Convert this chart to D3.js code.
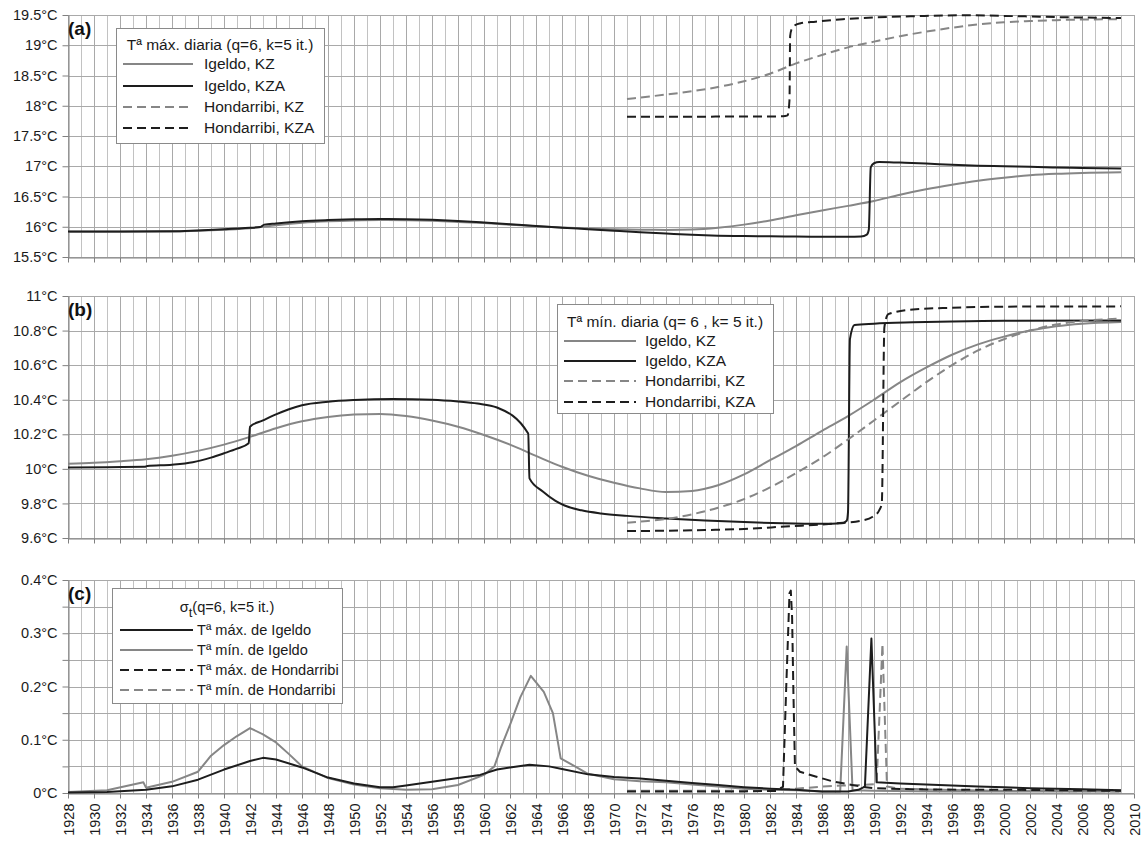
<!DOCTYPE html>
<html>
<head>
<meta charset="utf-8">
<script src="https://cdn.jsdelivr.net/npm/d3@7"></script>
<style>
  body { margin: 0; background: #fff; }
  svg { display: block; font-family: "Liberation Sans", Arial, sans-serif; }
</style>
</head>
<body>
<svg id="chart" width="1145" height="841"></svg>
<script>
// ---- (a) daily maximum temperature, smoothed series [year, °C] ----
const maxIgeldoKZ = [[1928,15.918],[1932,15.918],[1936,15.922],[1938,15.932],[1940,15.95],[1942,15.975],[1944,16.025],[1946,16.065],[1948,16.09],[1950,16.105],[1952,16.112],[1954,16.108],[1956,16.098],[1958,16.08],[1960,16.06],[1962,16.035],[1964,16.01],[1966,15.988],[1968,15.97],[1970,15.958],[1972,15.95],[1974,15.948],[1976,15.955],[1978,15.985],[1980,16.035],[1982,16.105],[1984,16.19],[1986,16.27],[1988,16.345],[1990,16.425],[1992,16.53],[1994,16.62],[1996,16.695],[1998,16.76],[2000,16.81],[2002,16.85],[2004,16.875],[2006,16.89],[2009,16.9]];
const maxIgeldoKZA = [[1928,15.92],[1932,15.92],[1936,15.925],[1938,15.94],[1940,15.958],[1942,15.982],[1942.8,15.995],[1943.1,16.035],[1944,16.055],[1946,16.09],[1948,16.11],[1950,16.124],[1952,16.13],[1954,16.126],[1956,16.115],[1958,16.096],[1960,16.07],[1962,16.042],[1964,16.012],[1966,15.985],[1968,15.96],[1970,15.935],[1972,15.91],[1974,15.888],[1976,15.866],[1978,15.852],[1980,15.846],[1982,15.842],[1984,15.838],[1986,15.836],[1988,15.836],[1989,15.84],[1989.45,15.87],[1989.6,15.95],[1989.75,16.98],[1990,17.05],[1990.4,17.07],[1992,17.06],[1994,17.045],[1996,17.025],[1998,17.01],[2000,17.0],[2002,16.99],[2004,16.98],[2006,16.972],[2009,16.962]];
const maxHondKZ = [[1971,18.11],[1972,18.135],[1974,18.185],[1976,18.24],[1978,18.31],[1980,18.405],[1982,18.53],[1984,18.7],[1986,18.84],[1988,18.965],[1990,19.06],[1992,19.15],[1994,19.225],[1996,19.29],[1998,19.345],[2000,19.38],[2002,19.4],[2004,19.415],[2006,19.425],[2009,19.43]];
const maxHondKZA = [[1971,17.82],[1976,17.82],[1981,17.822],[1983.0,17.825],[1983.35,17.84],[1983.5,18.1],[1983.55,19.15],[1983.65,19.26],[1983.85,19.32],[1984.3,19.36],[1985.5,19.39],[1987.6,19.43],[1990,19.46],[1993,19.48],[1997,19.495],[2001,19.48],[2005,19.462],[2009,19.45]];

// ---- (b) daily minimum temperature ----
const minIgeldoKZ = [[1928,10.03],[1930,10.035],[1932,10.044],[1934,10.056],[1936,10.076],[1938,10.104],[1940,10.14],[1942,10.185],[1944,10.235],[1946,10.275],[1948,10.3],[1950,10.314],[1952,10.318],[1954,10.306],[1956,10.28],[1958,10.244],[1960,10.196],[1962,10.14],[1964,10.075],[1966,10.012],[1968,9.96],[1970,9.92],[1972,9.887],[1974,9.866],[1976,9.872],[1978,9.905],[1980,9.968],[1982,10.05],[1984,10.132],[1986,10.22],[1988,10.305],[1990,10.4],[1992,10.5],[1994,10.585],[1996,10.66],[1998,10.72],[2000,10.765],[2002,10.8],[2004,10.825],[2006,10.84],[2009,10.85]];
const minIgeldoKZA = [[1928,10.008],[1931,10.01],[1933.9,10.012],[1934.1,10.017],[1936,10.024],[1937.6,10.038],[1939,10.065],[1940,10.09],[1941,10.117],[1941.9,10.148],[1942,10.244],[1943,10.28],[1944,10.315],[1945,10.345],[1946,10.368],[1948,10.388],[1950,10.398],[1953,10.404],[1956,10.4],[1958,10.39],[1959.5,10.378],[1961,10.355],[1963.4,10.204],[1963.5,9.945],[1964.5,9.87],[1965.5,9.815],[1966.2,9.788],[1967.5,9.76],[1969,9.742],[1971,9.728],[1974,9.713],[1977,9.701],[1980,9.692],[1983,9.685],[1986,9.682],[1987.5,9.685],[1987.9,9.7],[1988,9.75],[1988.15,10.75],[1988.5,10.832],[1990,10.84],[1993,10.848],[1996,10.853],[2000,10.857],[2009,10.858]];
const minHondKZ = [[1971,9.688],[1972,9.695],[1974,9.71],[1976,9.737],[1978,9.775],[1980,9.825],[1982,9.893],[1984,9.975],[1986,10.065],[1988,10.17],[1990,10.28],[1992,10.39],[1994,10.5],[1996,10.6],[1998,10.685],[2000,10.75],[2002,10.8],[2004,10.835],[2006,10.855],[2009,10.87]];
const minHondKZA = [[1971,9.64],[1974,9.642],[1977,9.646],[1980,9.652],[1983.5,9.668],[1986,9.678],[1987.6,9.688],[1989,9.7],[1989.9,9.723],[1990.4,9.76],[1990.6,9.8],[1990.8,10.82],[1991.1,10.895],[1993,10.922],[1996,10.932],[1999.4,10.938],[2009,10.94]];

// ---- (c) standard deviation sigma_t ----
const sdMaxIgeldo = [[1928,0.001],[1931,0.002],[1934,0.006],[1936,0.0125],[1938,0.025],[1940,0.044],[1942,0.06],[1943,0.066],[1944,0.063],[1946,0.048],[1948,0.029],[1950,0.018],[1952,0.011],[1953,0.011],[1954,0.014],[1956,0.021],[1958,0.028],[1959.7,0.034],[1961,0.044],[1962,0.048],[1963.5,0.053],[1965,0.05],[1966,0.045],[1968,0.035],[1970,0.03],[1972,0.027],[1974,0.023],[1976,0.019],[1978,0.015],[1980,0.011],[1982,0.008],[1984,0.006],[1986,0.003],[1988,0.003],[1988.8,0.006],[1989.3,0.012],[1989.8,0.29],[1990.2,0.02],[1992,0.018],[1994,0.016],[1996,0.014],[1998,0.012],[2000,0.011],[2002,0.009],[2004,0.008],[2006,0.007],[2009,0.005]];
const sdMinIgeldo = [[1928,0.002],[1931,0.005],[1933.8,0.02],[1934,0.01],[1936,0.021],[1938,0.04],[1939,0.07],[1940,0.09],[1941,0.107],[1942,0.122],[1943,0.11],[1944,0.095],[1945,0.073],[1946,0.05],[1948,0.028],[1950,0.016],[1952,0.009],[1954,0.006],[1956,0.007],[1958,0.015],[1960,0.034],[1960.8,0.05],[1961.3,0.085],[1962,0.128],[1962.8,0.18],[1963.6,0.22],[1964.6,0.19],[1965.3,0.15],[1965.9,0.065],[1967,0.05],[1968,0.036],[1970,0.026],[1972,0.022],[1974,0.02],[1976,0.016],[1978,0.012],[1980,0.008],[1982,0.006],[1984,0.005],[1986,0.003],[1987.4,0.003],[1987.9,0.275],[1988.35,0.005],[1990,0.004],[1995,0.003],[2009,0.003]];
const sdMaxHond = [[1971,0.003],[1976,0.003],[1980,0.003],[1982.5,0.004],[1983.0,0.012],[1983.25,0.2],[1983.5,0.375],[1983.6,0.38],[1983.7,0.33],[1983.8,0.19],[1983.92,0.05],[1984.3,0.04],[1985.5,0.031],[1986.8,0.022],[1987.9,0.017],[1989,0.012],[1990,0.009],[1993,0.007],[1997,0.006],[2001,0.006],[2005,0.005],[2009,0.004]];
const sdMinHond = [[1971,0.004],[1976,0.004],[1980,0.004],[1983,0.006],[1984,0.008],[1986,0.012],[1987.5,0.014],[1989,0.015],[1990.2,0.017],[1990.65,0.28],[1991.0,0.012],[1992,0.008],[1995,0.006],[2000,0.004],[2009,0.003]];

// ---- axis tick values ----
const ticksA = [15.5,16,16.5,17,17.5,18,18.5,19,19.5];
const ticksB = [9.6,9.8,10,10.2,10.4,10.6,10.8,11];
const gridC  = [0,0.05,0.1,0.15,0.2,0.25,0.3,0.35,0.4];
const ticksC = [0,0.1,0.2,0.3,0.4];
const yearsAll = d3.range(1928, 2011);
const yearLabels = d3.range(1928, 2011, 2);

// ---- legend texts ----
const legendTitleA = "Tª máx. diaria (q=6, k=5 it.)";
const legendTitleB = "Tª mín. diaria (q= 6 , k= 5 it.)";
const legendNamesAB = ["Igeldo, KZ", "Igeldo, KZA", "Hondarribi, KZ", "Hondarribi, KZA"];
const legendNamesC = ["Tª máx. de Igeldo", "Tª mín. de Igeldo", "Tª máx. de Hondarribi", "Tª mín. de Hondarribi"];

const GRAY = "#868686", BLACK = "#1d1d1d", DASH = "9,5";
const svg = d3.select("#chart");
const x = d3.scaleLinear().domain([1928, 2010]).range([68, 1134]);
const fmt = d => (+d.toFixed(2)) + "°C";

function drawPanel(cfg) {
  const y = d3.scaleLinear().domain(cfg.domain).range([cfg.bottom, cfg.top]);
  const g = svg.append("g");

  // yearly vertical grid
  g.append("g").selectAll("line").data(yearsAll).join("line")
    .attr("x1", d => x(d) + 0.5).attr("x2", d => x(d) + 0.5)
    .attr("y1", cfg.top).attr("y2", cfg.bottom)
    .attr("stroke", d => d % 2 === 0 ? "#a9a9a9" : "#c2c2c2")
    .attr("stroke-width", 1);

  // horizontal grid
  g.append("g").selectAll("line").data(cfg.grid).join("line")
    .attr("x1", x(1928)).attr("x2", x(2010))
    .attr("y1", d => Math.round(y(d)) + 0.5).attr("y2", d => Math.round(y(d)) + 0.5)
    .attr("stroke", "#a9a9a9").attr("stroke-width", 1);

  // left axis
  const ya = g.append("g").attr("transform", `translate(${x(1928) + 0.5},0)`)
    .call(d3.axisLeft(y).tickValues(cfg.grid).tickSize(6).tickSizeOuter(0).tickPadding(5)
      .tickFormat(d => cfg.labels.some(v => Math.abs(v - d) < 1e-9) ? fmt(d) : ""));
  ya.attr("color", "#808080");
  ya.selectAll("text").attr("fill", "#1a1a1a").style("font-size", "14.5px")
    .style("font-family", "'Liberation Sans', Arial, sans-serif");

  // bottom axis
  const xa = g.append("g").attr("transform", `translate(0,${Math.round(cfg.bottom) + 0.5})`)
    .call(d3.axisBottom(x).tickValues(yearLabels).tickSize(5).tickSizeOuter(0)
      .tickFormat(cfg.yearText ? d3.format("d") : ""));
  xa.attr("color", "#808080");
  if (cfg.yearText) {
    xa.selectAll("text")
      .attr("fill", "#1a1a1a").style("font-size", "14.5px")
      .style("font-family", "'Liberation Sans', Arial, sans-serif")
      .attr("transform", "rotate(-90)").attr("text-anchor", "end")
      .attr("x", -10).attr("y", 0.5).attr("dy", "0.35em");
  }

  // series
  const line = d3.line().x(d => x(d[0])).y(d => y(d[1])).curve(cfg.curve);
  cfg.series.forEach(s => {
    g.append("path").datum(s.data)
      .attr("d", line).attr("fill", "none")
      .attr("stroke", s.color).attr("stroke-width", 2)
      .attr("stroke-dasharray", s.dash ? DASH : null)
      .attr("stroke-linejoin", "round");
  });

  // panel letter
  g.append("text").attr("x", 68).attr("y", cfg.top + 20)
    .attr("font-weight", "bold").attr("font-size", 19).attr("fill", "#111")
    .text(cfg.letter);

  // legend
  const L = cfg.legend;
  const lg = g.append("g");
  lg.append("rect").attr("x", L.x + 0.5).attr("y", L.y + 0.5).attr("width", L.w).attr("height", L.h)
    .attr("fill", "#fff").attr("stroke", "#8a8a8a").attr("stroke-width", 1);
  const title = lg.append("text").attr("x", L.x + L.w / 2).attr("y", L.titleY)
    .attr("text-anchor", "middle").attr("dy", "0.35em").attr("font-size", L.font).attr("fill", "#1a1a1a");
  if (L.sigma) {
    title.append("tspan").text("σ");
    title.append("tspan").attr("font-size", 13).attr("dy", "0.35em").text("t");
    title.append("tspan").attr("dy", "-0.3em").text(L.title);
  } else {
    title.text(L.title);
  }
  L.items.forEach((it, i) => {
    const yy = L.rows[i];
    lg.append("line").attr("x1", L.sx0).attr("x2", L.sx1).attr("y1", yy).attr("y2", yy)
      .attr("stroke", it.color).attr("stroke-width", 2)
      .attr("stroke-dasharray", it.dash ? DASH : null);
    lg.append("text").attr("x", L.tx).attr("y", yy).attr("dy", "0.35em")
      .attr("font-size", L.font).attr("fill", "#1a1a1a").text(it.name);
  });
}

const styleKZ = { color: GRAY, dash: false }, styleKZA = { color: BLACK, dash: false };
const styleHKZ = { color: GRAY, dash: true }, styleHKZA = { color: BLACK, dash: true };
const abItems = [styleKZ, styleKZA, styleHKZ, styleHKZA].map((s, i) => ({ ...s, name: legendNamesAB[i] }));

drawPanel({
  letter: "(a)", top: 15, bottom: 257, domain: [15.5, 19.5],
  grid: ticksA, labels: ticksA, curve: d3.curveMonotoneX, yearText: false,
  series: [
    { data: maxIgeldoKZ, ...styleKZ }, { data: maxIgeldoKZA, ...styleKZA },
    { data: maxHondKZ, ...styleHKZ }, { data: maxHondKZA, ...styleHKZA }
  ],
  legend: { x: 116, y: 28, w: 208, h: 115, titleY: 45, title: legendTitleA, font: 15.5,
    rows: [64, 86, 107, 128], sx0: 123, sx1: 193, tx: 204, items: abItems }
});

drawPanel({
  letter: "(b)", top: 296, bottom: 538, domain: [9.6, 11],
  grid: ticksB, labels: ticksB, curve: d3.curveMonotoneX, yearText: false,
  series: [
    { data: minIgeldoKZ, ...styleKZ }, { data: minIgeldoKZA, ...styleKZA },
    { data: minHondKZ, ...styleHKZ }, { data: minHondKZA, ...styleHKZA }
  ],
  legend: { x: 557, y: 304, w: 216, h: 109, titleY: 322, title: legendTitleB, font: 15.5,
    rows: [341, 361, 381, 402], sx0: 564, sx1: 636, tx: 645, items: abItems }
});

drawPanel({
  letter: "(c)", top: 580, bottom: 793, domain: [0, 0.4],
  grid: gridC, labels: ticksC, curve: d3.curveLinear, yearText: true,
  series: [
    { data: sdMinIgeldo, ...styleKZ }, { data: sdMinHond, ...styleHKZ },
    { data: sdMaxIgeldo, ...styleKZA }, { data: sdMaxHond, ...styleHKZA }
  ],
  legend: { x: 112, y: 588, w: 230, h: 115, titleY: 607, title: "(q=6, k=5 it.)", sigma: true, font: 14.6,
    rows: [630, 650, 670, 690], sx0: 120, sx1: 193, tx: 197,
    items: [styleKZA, styleKZ, styleHKZA, styleHKZ].map((s, i) => ({ ...s, name: legendNamesC[i] })) }
});
</script>
</body>
</html>
